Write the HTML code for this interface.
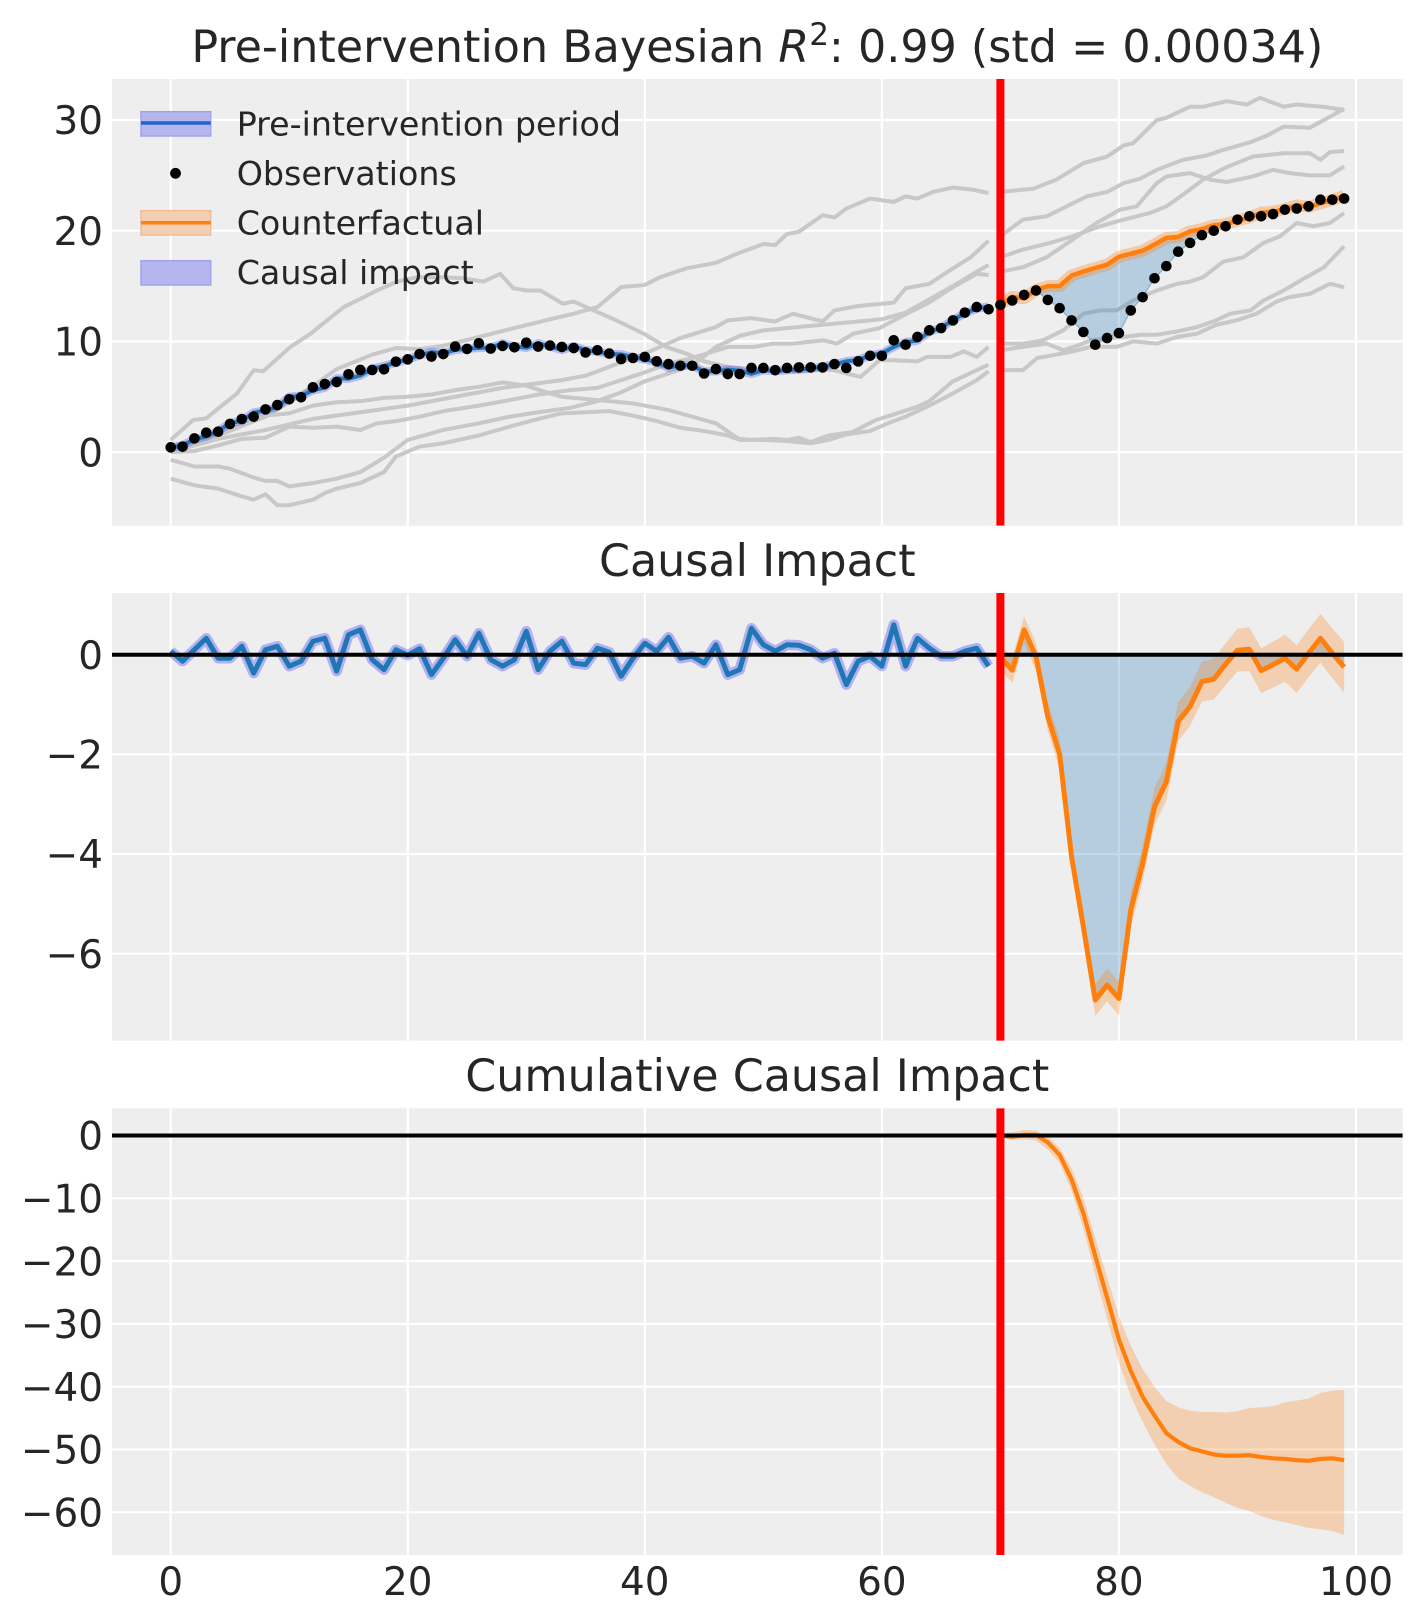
<!DOCTYPE html>
<html><head><meta charset="utf-8"><style>
html,body{margin:0;padding:0;background:#fff;}
svg{display:block;}
text{font-family:"DejaVu Sans","Liberation Sans",sans-serif;fill:#262626;}
.nss{vector-effect:non-scaling-stroke;fill:none;stroke-linejoin:round;}
</style></head><body>
<svg width="1423" height="1623" viewBox="0 0 1423 1623" xmlns="http://www.w3.org/2000/svg">
<defs>
<clipPath id="c1"><rect x="112" y="79" width="1290.7" height="446.7"/></clipPath>
<clipPath id="c2"><rect x="112" y="593" width="1290.7" height="447.7"/></clipPath>
<clipPath id="c3"><rect x="112" y="1108.3" width="1290.7" height="446.7"/></clipPath>
</defs>
<rect width="1423" height="1623" fill="#fff"/>

<!-- ============ PANEL 1 ============ -->
<rect x="112" y="79" width="1290.7" height="446.7" fill="#eeeeee"/>
<g stroke="#fff" stroke-width="2.2">
<line x1="170.7" y1="79" x2="170.7" y2="525.7"/><line x1="407.8" y1="79" x2="407.8" y2="525.7"/><line x1="644.8" y1="79" x2="644.8" y2="525.7"/><line x1="881.9" y1="79" x2="881.9" y2="525.7"/><line x1="1118.9" y1="79" x2="1118.9" y2="525.7"/><line x1="1356" y1="79" x2="1356" y2="525.7"/>
<line x1="112" y1="120" x2="1402.7" y2="120"/><line x1="112" y1="230.7" x2="1402.7" y2="230.7"/><line x1="112" y1="341.4" x2="1402.7" y2="341.4"/><line x1="112" y1="452.1" x2="1402.7" y2="452.1"/>
</g>
<g clip-path="url(#c1)">
<g transform="matrix(11.853 0 0 -11.07 170.7 452.1)">
<g class="nss" stroke="#c8c8c8" stroke-width="4">
<path class="nss" d="M0 0.5 L4 1.5 L8 3.2 L11 5.2 L14 7.5 L17 8.8 L19 9.4 L21 9.3 L23 9.6 L26 10.4 L29 11.2 L32 12.0 L34 12.5 L36 13.1 L38 14.9 L40 15.1 L41.3 15.8 L43.5 16.6 L46 17.1 L47.5 17.8 L50 18.8 L51 18.7 L52 19.7 L53 19.9 L55 21.4 L56 21.2 L57 22.0 L59 22.9 L61 22.6 L62 23.1 L63 22.9 L64.3 23.5 L66 23.9 L67.7 23.7 L69 23.4"/>
<path class="nss" d="M0 1.1 L1.9 2.9 L3 3.05 L4.2 4.1 L5.6 5.3 L7 7.4 L7.8 7.3 L10.1 9.5 L11.8 10.7 L13.2 11.9 L14.6 13.1 L16.3 14.0 L17.4 14.6 L19.1 15.4 L20.8 15.8 L23 15.8 L24.7 15.7 L26.4 15.4 L27.8 16.1 L28.9 14.8 L30 14.6 L31.2 14.6 L32.3 13.9 L33.1 13.4 L34 13.6 L35.7 12.8 L37.6 11.9 L39.9 10.7 L41.8 9.5 L43.5 8.9 L45 8.2 L47 7.7 L49 7.5 L51 7.3 L53 7.3 L55 7.5 L56 7.4 L57 7.1 L58.2 6.8 L59.8 8.3 L61 8.3 L63 8.2 L63.8 8.6 L65.8 8.6 L66.9 9.1 L68 8.6 L69 9.5"/>
<path class="nss" d="M0 0 L4 1.2 L8 2.0 L12 3.0 L16 3.6 L20 4.2 L24 5.0 L28 5.8 L33 6.5 L35 6.9 L37 7.7 L40 8.9 L43 10.3 L46 11.3 L47 11.9 L49 12.1 L51 11.8 L52.5 12.5 L55 11.8 L56 12.8 L58 13.2 L60 13.4 L61 13.5 L62 14.8 L64 15.2 L66 16.6 L67.5 17.6 L69 19.1"/>
<path class="nss" d="M0 -0.7 L2 -1.3 L4 -1.3 L5 -1.5 L7 -2.3 L8 -2.6 L9 -2.6 L10 -3.1 L12 -2.8 L14 -2.4 L16 -1.8 L18 -0.5 L20 1.1 L23 2.0 L26 2.6 L28.6 3.2 L31 3.6 L33.7 4.0 L36 4.6 L38 5.4 L40 6.4 L42 7.1 L44 7.8 L46 9.5 L48 10.5 L50 11.0 L52 11.2 L54 11.4 L56 11.6 L58 11.8 L60 12.0 L62 12.6 L64 13.8 L66 15.0 L68 16.3 L69 16.9"/>
<path class="nss" d="M0 0 L2 0.1 L4 0.6 L6 1.2 L8 1.3 L10 2.3 L12 2.2 L14 2.3 L16 2.0 L17.4 2.6 L19 2.8 L21 3.2 L23 3.7 L26 4.2 L28.6 4.7 L31 5.2 L33.7 5.6 L36 5.8 L38 6.5 L40 7.2 L42 8.0 L44 8.5 L47 9.5 L49.2 9.5 L50.8 9.8 L52.5 9.8 L55.1 10.1 L56.2 9.8 L57.6 10.7 L59.8 11.2 L62.1 12.5 L63.8 13.4 L66 14.9 L68 16.1 L69 16.0"/>
<path class="nss" d="M0 0.6 L2 0.9 L4 1.8 L6 2.4 L8 3.3 L10 3.5 L12 4.2 L14 4.5 L16 4.6 L18 4.9 L20 5.0 L22 5.2 L24 5.6 L26 5.9 L28 6.3 L30 6.0 L32 5.3 L33 5.0 L35 4.8 L37 4.6 L39 4.4 L41 4.0 L42 3.8 L44 3.2 L46 2.6 L47.9 1.2 L49 1.1 L51 1.2 L52 1.1 L53 1.3 L54 0.9 L55.5 1.5 L57.5 1.8 L59.5 2.9 L61 3.4 L63 4.1 L64 4.6 L66 6.4 L68 7.4 L69 7.9"/>
<path class="nss" d="M0 -2.4 L2 -3.0 L4 -3.3 L6 -4.0 L7 -4.3 L8 -3.8 L9 -4.8 L10 -4.8 L12 -4.3 L13 -3.7 L14 -3.3 L16 -2.8 L18 -1.8 L19 -0.4 L21 0.5 L23 0.8 L26 1.5 L28.6 2.3 L31 3.0 L33 3.5 L35 3.6 L37 3.7 L39 3.3 L41 2.8 L43 2.2 L45 1.9 L47 1.5 L48 1.1 L50 1.1 L52 1.0 L54 0.8 L55.5 1.1 L57 1.6 L59 1.9 L60.5 2.6 L62 3.2 L64 4.2 L66 5.3 L68 6.5 L69 7.3"/>
<path class="nss" d="M70 23.5 L72.8 23.8 L74.7 24.6 L77 26.1 L79 26.7 L80.4 27.7 L81.2 27.9 L83.2 30.0 L84 30.2 L86 31.2 L87.1 31.2 L89.1 31.7 L90.8 31.4 L91.9 32.0 L93.9 31.2 L95 31.4 L97.2 31.2 L99 30.9"/>
<path class="nss" d="M70 19.5 L71.9 21.0 L73.9 21.3 L75.6 22.2 L77.3 23.1 L79 23.5 L80.4 24.3 L81.8 24.7 L83.2 25.5 L85.4 26.4 L87.4 26.8 L88.8 27.3 L91.1 28.0 L92.5 28.6 L93.9 29.4 L96.1 29.3 L97.3 30.0 L99 31.0"/>
<path class="nss" d="M70 17.6 L71.9 18.3 L74.2 18.9 L76.1 19.5 L78.4 20.4 L80.4 21.0 L82.6 21.6 L84 22.2 L85.2 23.1 L87.1 24.6 L88.8 25.6 L89.9 26.1 L91.3 26.7 L92.2 26.8 L93.9 27.0 L96.1 27.0 L97 26.4 L97.8 27.1 L99 27.2"/>
<path class="nss" d="M70 16.3 L71.9 16.7 L73.9 17.6 L76.1 19.2 L78.1 20.7 L80.1 21.9 L81.5 22.2 L83.2 24.3 L84 24.9 L86 25.2 L87.7 24.6 L89.1 24.4 L91.3 24.9 L93 25.5 L94.4 25.2 L96.1 25.0 L97.8 25.0 L99 25.8"/>
<path class="nss" d="M70 9.8 L71.9 9.8 L73.6 10.1 L75.3 11.0 L77 12.5 L78.4 12.8 L79.8 12.8 L81.2 13.7 L83.2 14.6 L84.9 15.2 L86 15.4 L87.1 15.8 L88.8 17.2 L90.5 17.6 L92.2 18.9 L93.6 19.5 L95 20.7 L96.4 20.4 L97.8 20.7 L99 21.6"/>
<path class="nss" d="M70 9.2 L71.9 9.5 L73.9 9.8 L75.3 9.2 L76.7 9.7 L77.6 10.1 L79 10.3 L80.4 10.4 L81.8 10.6 L83.2 10.6 L84.9 10.9 L86.6 11.3 L88.2 11.9 L89.4 12.5 L91.1 12.8 L92.2 13.7 L93.9 14.6 L95.8 15.8 L97.3 16.7 L99 18.6"/>
<path class="nss" d="M70 7.4 L71.9 7.4 L73.1 8.5 L74.7 8.8 L76.1 9.1 L77.6 9.5 L79.8 9.5 L81.2 10.0 L83.2 9.8 L84.9 10.4 L86.6 10.7 L88.2 11.5 L89.9 11.9 L91.6 12.5 L93.3 13.6 L94.4 14.0 L96.1 14.3 L97.8 15.2 L99 14.9"/>
</g>
<path fill="rgba(31,119,180,0.27)" stroke="none" d="M70 13.35 L71 14.01 L72 13.7 L73 14.64 L74 14.99 L75 15.0 L76 15.95 L77 16.31 L78 16.63 L79 16.93 L80 17.65 L81 17.92 L82 18.19 L83 18.75 L84 19.35 L85 19.44 L86 19.94 L87 20.14 L88 20.49 L89 20.59 L90 20.91 L91 21.19 L92 21.62 L93 21.7 L94 21.97 L95 22.29 L96 22.17 L97 22.47 L98 22.77 L99 23.15 L99 22.9 L98 22.8 L97 22.8 L96 22.2 L95 22.0 L94 21.9 L93 21.5 L92 21.3 L91 21.3 L90 21.0 L89 20.4 L88 20.0 L87 19.6 L86 18.9 L85 18.1 L84 16.8 L83 15.7 L82 14.0 L81 12.8 L80 10.75 L79 10.3 L78 9.7 L77 10.85 L76 11.9 L75 13.0 L74 13.75 L73 14.6 L72 14.2 L71 13.7 L70 13.3 Z"/>
<path class="nss" stroke="rgba(31,119,180,0.35)" stroke-width="1.5" d="M99 22.9 L98 22.8 L97 22.8 L96 22.2 L95 22.0 L94 21.9 L93 21.5 L92 21.3 L91 21.3 L90 21.0 L89 20.4 L88 20.0 L87 19.6 L86 18.9 L85 18.1 L84 16.8 L83 15.7 L82 14.0 L81 12.8 L80 10.75 L79 10.3 L78 9.7 L77 10.85 L76 11.9 L75 13.0 L74 13.75 L73 14.6"/>
<path class="nss" stroke="rgba(0,0,255,0.22)" stroke-width="8.5" d="M0 0.36 L1 0.62 L2 1.14 L3 1.42 L4 1.91 L5 2.61 L6 2.82 L7 3.57 L8 3.76 L9 4.08 L10 5.0 L11 5.08 L12 5.58 L13 5.82 L14 6.66 L15 6.63 L16 6.92 L17 7.52 L18 7.78 L19 8.07 L20 8.39 L21 8.74 L22 9.03 L23 8.93 L24 9.23 L25 9.35 L26 9.4 L27 9.45 L28 9.82 L29 9.57 L30 9.42 L31 9.83 L32 9.55 L33 9.23 L34 9.57 L35 9.2 L36 9.07 L37 8.85 L38 8.83 L39 8.57 L40 8.37 L41 8.13 L42 7.6 L43 7.87 L44 7.83 L45 7.27 L46 7.3 L47 7.45 L48 7.35 L49 7.07 L50 7.4 L51 7.33 L52 7.4 L53 7.46 L54 7.55 L55 7.72 L56 7.92 L57 8.2 L58 8.33 L59 8.73 L60 8.93 L61 9.5 L62 9.93 L63 10.07 L64 10.87 L65 11.23 L66 11.93 L67 12.53 L68 12.97 L69 13.13"/>
<path class="nss" stroke="#1f77b4" stroke-width="4" d="M0 0.36 L1 0.62 L2 1.14 L3 1.42 L4 1.91 L5 2.61 L6 2.82 L7 3.57 L8 3.76 L9 4.08 L10 5.0 L11 5.08 L12 5.58 L13 5.82 L14 6.66 L15 6.63 L16 6.92 L17 7.52 L18 7.78 L19 8.07 L20 8.39 L21 8.74 L22 9.03 L23 8.93 L24 9.23 L25 9.35 L26 9.4 L27 9.45 L28 9.82 L29 9.57 L30 9.42 L31 9.83 L32 9.55 L33 9.23 L34 9.57 L35 9.2 L36 9.07 L37 8.85 L38 8.83 L39 8.57 L40 8.37 L41 8.13 L42 7.6 L43 7.87 L44 7.83 L45 7.27 L46 7.3 L47 7.45 L48 7.35 L49 7.07 L50 7.4 L51 7.33 L52 7.4 L53 7.46 L54 7.55 L55 7.72 L56 7.92 L57 8.2 L58 8.33 L59 8.73 L60 8.93 L61 9.5 L62 9.93 L63 10.07 L64 10.87 L65 11.23 L66 11.93 L67 12.53 L68 12.97 L69 13.13"/>
<path class="nss" stroke="rgba(255,127,14,0.32)" stroke-width="12" d="M70 13.35 L71 14.01 L72 13.9 L73 14.64 L74 14.99 L75 15.0 L76 15.95 L77 16.31 L78 16.63 L79 16.93 L80 17.65 L81 17.92 L82 18.19 L83 18.75 L84 19.35 L85 19.44 L86 19.94 L87 20.14 L88 20.49 L89 20.59 L90 20.91 L91 21.19 L92 21.62 L93 21.7 L94 21.97 L95 22.29 L96 22.17 L97 22.47 L98 22.77 L99 23.15"/>
<path class="nss" stroke="#ff7f0e" stroke-width="4.5" d="M70 13.35 L71 14.01 L72 13.9 L73 14.64 L74 14.99 L75 15.0 L76 15.95 L77 16.31 L78 16.63 L79 16.93 L80 17.65 L81 17.92 L82 18.19 L83 18.75 L84 19.35 L85 19.44 L86 19.94 L87 20.14 L88 20.49 L89 20.59 L90 20.91 L91 21.19 L92 21.62 L93 21.7 L94 21.97 L95 22.29 L96 22.17 L97 22.47 L98 22.77 L99 23.15"/>
</g>
<line x1="1000.4" y1="79" x2="1000.4" y2="525.7" stroke="#ff0000" stroke-width="8"/>
<g transform="matrix(11.853 0 0 -11.07 170.7 452.1)">
<path class="nss" stroke="#000" stroke-width="10.6" stroke-linecap="round" d="M0 0.43l.001 0M1 0.49l.001 0M2 1.24l.001 0M3 1.75l.001 0M4 1.84l.001 0M5 2.54l.001 0M6 2.99l.001 0M7 3.2l.001 0M8 3.86l.001 0M9 4.25l.001 0M10 4.77l.001 0M11 4.95l.001 0M12 5.85l.001 0M13 6.15l.001 0M14 6.33l.001 0M15 7.03l.001 0M16 7.42l.001 0M17 7.42l.001 0M18 7.48l.001 0M19 8.17l.001 0M20 8.38l.001 0M21 8.86l.001 0M22 8.63l.001 0M23 8.86l.001 0M24 9.53l.001 0M25 9.32l.001 0M26 9.83l.001 0M27 9.35l.001 0M28 9.59l.001 0M29 9.47l.001 0M30 9.89l.001 0M31 9.53l.001 0M32 9.62l.001 0M33 9.5l.001 0M34 9.4l.001 0M35 9.0l.001 0M36 9.2l.001 0M37 8.9l.001 0M38 8.4l.001 0M39 8.5l.001 0M40 8.6l.001 0M41 8.2l.001 0M42 7.95l.001 0M43 7.8l.001 0M44 7.8l.001 0M45 7.1l.001 0M46 7.5l.001 0M47 7.05l.001 0M48 7.05l.001 0M49 7.6l.001 0M50 7.6l.001 0M51 7.4l.001 0M52 7.6l.001 0M53 7.65l.001 0M54 7.65l.001 0M55 7.65l.001 0M56 7.95l.001 0M57 7.6l.001 0M58 8.2l.001 0M59 8.7l.001 0M60 8.7l.001 0M61 10.1l.001 0M62 9.7l.001 0M63 10.4l.001 0M64 11.0l.001 0M65 11.2l.001 0M66 11.9l.001 0M67 12.6l.001 0M68 13.1l.001 0M69 12.9l.001 0M70 13.3l.001 0M71 13.7l.001 0M72 14.2l.001 0M73 14.6l.001 0M74 13.75l.001 0M75 13.0l.001 0M76 11.9l.001 0M77 10.85l.001 0M78 9.7l.001 0M79 10.3l.001 0M80 10.75l.001 0M81 12.8l.001 0M82 14.0l.001 0M83 15.7l.001 0M84 16.8l.001 0M85 18.1l.001 0M86 18.9l.001 0M87 19.6l.001 0M88 20.0l.001 0M89 20.4l.001 0M90 21.0l.001 0M91 21.3l.001 0M92 21.3l.001 0M93 21.5l.001 0M94 21.9l.001 0M95 22.0l.001 0M96 22.2l.001 0M97 22.8l.001 0M98 22.8l.001 0M99 22.9l.001 0"/>
</g>
</g>

<!-- legend -->
<rect x="141" y="111.7" width="69.7" height="24.3" fill="#b6b6ef" stroke="#a2a2ee" stroke-width="1.5"/>
<line x1="141" y1="123" x2="210.7" y2="123" stroke="#2265c8" stroke-width="3.5"/>
<text x="236.7" y="135.5" font-size="33.3">Pre-intervention period</text>
<circle cx="175.5" cy="173.3" r="5.4" fill="#000"/>
<text x="236.7" y="185" font-size="33.3">Observations</text>
<rect x="141" y="210.7" width="69.7" height="24.3" fill="#f3d0b4" stroke="#f2bc92" stroke-width="1.5"/>
<line x1="141" y1="222.7" x2="210.7" y2="222.7" stroke="#ff7f0e" stroke-width="3.5"/>
<text x="236.7" y="234.5" font-size="33.3">Counterfactual</text>
<rect x="141" y="260.7" width="69.7" height="24.3" fill="#b6b6ef" stroke="#a2a2ee" stroke-width="1.5"/>
<text x="236.7" y="284" font-size="33.3">Causal impact</text>

<text x="757.3" y="62" font-size="44.4" text-anchor="middle">Pre-intervention Bayesian <tspan font-style="italic">R</tspan><tspan font-size="31" dy="-17">2</tspan><tspan dy="17">: 0.99 (std = 0.00034)</tspan></text>

<g font-size="38.9" text-anchor="end">
<text x="103" y="134.2">30</text><text x="103" y="244.9">20</text><text x="103" y="355.6">10</text><text x="103" y="466.3">0</text>
</g>

<!-- ============ PANEL 2 ============ -->
<rect x="112" y="593" width="1290.7" height="447.7" fill="#eeeeee"/>
<g stroke="#fff" stroke-width="2.2">
<line x1="170.7" y1="593" x2="170.7" y2="1040.7"/><line x1="407.8" y1="593" x2="407.8" y2="1040.7"/><line x1="644.8" y1="593" x2="644.8" y2="1040.7"/><line x1="881.9" y1="593" x2="881.9" y2="1040.7"/><line x1="1118.9" y1="593" x2="1118.9" y2="1040.7"/><line x1="1356" y1="593" x2="1356" y2="1040.7"/>
<line x1="112" y1="654.7" x2="1402.7" y2="654.7"/><line x1="112" y1="754.4" x2="1402.7" y2="754.4"/><line x1="112" y1="854" x2="1402.7" y2="854"/><line x1="112" y1="953.7" x2="1402.7" y2="953.7"/>
</g>
<g clip-path="url(#c2)">
<g transform="matrix(11.853 0 0 -49.83 170.7 654.7)">
<path fill="rgba(31,119,180,0.27)" d="M70 0 L70 -0.05 L71 -0.31 L72 0.5 L73 -0.04 L74 -1.24 L75 -2.0 L76 -4.05 L77 -5.46 L78 -6.93 L79 -6.63 L80 -6.9 L81 -5.12 L82 -4.19 L83 -3.05 L84 -2.55 L85 -1.34 L86 -1.04 L87 -0.54 L88 -0.49 L89 -0.19 L90 0.09 L91 0.11 L92 -0.32 L93 -0.2 L94 -0.07 L95 -0.29 L96 0.03 L97 0.33 L98 0.03 L99 -0.25 L99 0 Z"/>
<path fill="rgba(255,127,14,0.27)" d="M70 0.20 L71 -0.05 L72 0.77 L73 0.24 L74 -0.95 L75 -1.70 L76 -3.75 L77 -5.15 L78 -6.61 L79 -6.30 L80 -6.56 L81 -4.77 L82 -3.83 L83 -2.68 L84 -2.17 L85 -0.95 L86 -0.65 L87 -0.14 L88 -0.08 L89 0.23 L90 0.52 L91 0.55 L92 0.13 L93 0.26 L94 0.40 L95 0.19 L96 0.51 L97 0.82 L98 0.53 L99 0.26 L99 -0.76 L98 -0.47 L97 -0.16 L96 -0.45 L95 -0.77 L94 -0.54 L93 -0.66 L92 -0.77 L91 -0.33 L90 -0.34 L89 -0.61 L88 -0.90 L87 -0.94 L86 -1.43 L85 -1.73 L84 -2.93 L83 -3.42 L82 -4.55 L81 -5.47 L80 -7.24 L79 -6.96 L78 -7.25 L77 -5.77 L76 -4.35 L75 -2.30 L74 -1.53 L73 -0.32 L72 0.23 L71 -0.57 L70 -0.30 Z"/>
<path class="nss" stroke="rgba(0,0,255,0.26)" stroke-width="10.5" d="M0 0.07 L1 -0.13 L2 0.1 L3 0.33 L4 -0.07 L5 -0.07 L6 0.17 L7 -0.37 L8 0.1 L9 0.17 L10 -0.23 L11 -0.13 L12 0.27 L13 0.33 L14 -0.33 L15 0.4 L16 0.5 L17 -0.1 L18 -0.3 L19 0.1 L20 -0.01 L21 0.12 L22 -0.4 L23 -0.07 L24 0.3 L25 -0.03 L26 0.43 L27 -0.1 L28 -0.23 L29 -0.1 L30 0.47 L31 -0.3 L32 0.07 L33 0.27 L34 -0.17 L35 -0.2 L36 0.13 L37 0.05 L38 -0.43 L39 -0.07 L40 0.23 L41 0.07 L42 0.35 L43 -0.07 L44 -0.03 L45 -0.17 L46 0.2 L47 -0.4 L48 -0.3 L49 0.53 L50 0.2 L51 0.07 L52 0.2 L53 0.19 L54 0.1 L55 -0.07 L56 0.03 L57 -0.6 L58 -0.13 L59 -0.03 L60 -0.23 L61 0.6 L62 -0.23 L63 0.33 L64 0.13 L65 -0.03 L66 -0.03 L67 0.07 L68 0.13 L69 -0.23"/>
<path class="nss" stroke="#1f77b4" stroke-width="5" d="M0 0.07 L1 -0.13 L2 0.1 L3 0.33 L4 -0.07 L5 -0.07 L6 0.17 L7 -0.37 L8 0.1 L9 0.17 L10 -0.23 L11 -0.13 L12 0.27 L13 0.33 L14 -0.33 L15 0.4 L16 0.5 L17 -0.1 L18 -0.3 L19 0.1 L20 -0.01 L21 0.12 L22 -0.4 L23 -0.07 L24 0.3 L25 -0.03 L26 0.43 L27 -0.1 L28 -0.23 L29 -0.1 L30 0.47 L31 -0.3 L32 0.07 L33 0.27 L34 -0.17 L35 -0.2 L36 0.13 L37 0.05 L38 -0.43 L39 -0.07 L40 0.23 L41 0.07 L42 0.35 L43 -0.07 L44 -0.03 L45 -0.17 L46 0.2 L47 -0.4 L48 -0.3 L49 0.53 L50 0.2 L51 0.07 L52 0.2 L53 0.19 L54 0.1 L55 -0.07 L56 0.03 L57 -0.6 L58 -0.13 L59 -0.03 L60 -0.23 L61 0.6 L62 -0.23 L63 0.33 L64 0.13 L65 -0.03 L66 -0.03 L67 0.07 L68 0.13 L69 -0.23"/>
<path class="nss" stroke="#ff7f0e" stroke-width="5" d="M70 -0.05 L71 -0.31 L72 0.5 L73 -0.04 L74 -1.24 L75 -2.0 L76 -4.05 L77 -5.46 L78 -6.93 L79 -6.63 L80 -6.9 L81 -5.12 L82 -4.19 L83 -3.05 L84 -2.55 L85 -1.34 L86 -1.04 L87 -0.54 L88 -0.49 L89 -0.19 L90 0.09 L91 0.11 L92 -0.32 L93 -0.2 L94 -0.07 L95 -0.29 L96 0.03 L97 0.33 L98 0.03 L99 -0.25"/>
</g>
<line x1="112" y1="654.7" x2="1402.7" y2="654.7" stroke="#000" stroke-width="4"/>
<line x1="1000.4" y1="593" x2="1000.4" y2="1040.7" stroke="#ff0000" stroke-width="8"/>
</g>
<text x="757.3" y="576" font-size="44.4" text-anchor="middle">Causal Impact</text>
<g font-size="38.9" text-anchor="end">
<text x="103" y="668.9">0</text><text x="103" y="768.6">−2</text><text x="103" y="868.2">−4</text><text x="103" y="967.9">−6</text>
</g>

<!-- ============ PANEL 3 ============ -->
<rect x="112" y="1108.3" width="1290.7" height="446.7" fill="#eeeeee"/>
<g stroke="#fff" stroke-width="2.2">
<line x1="170.7" y1="1108.3" x2="170.7" y2="1555"/><line x1="407.8" y1="1108.3" x2="407.8" y2="1555"/><line x1="644.8" y1="1108.3" x2="644.8" y2="1555"/><line x1="881.9" y1="1108.3" x2="881.9" y2="1555"/><line x1="1118.9" y1="1108.3" x2="1118.9" y2="1555"/><line x1="1356" y1="1108.3" x2="1356" y2="1555"/>
<line x1="112" y1="1135.5" x2="1402.7" y2="1135.5"/><line x1="112" y1="1198.3" x2="1402.7" y2="1198.3"/><line x1="112" y1="1261.1" x2="1402.7" y2="1261.1"/><line x1="112" y1="1323.9" x2="1402.7" y2="1323.9"/><line x1="112" y1="1386.7" x2="1402.7" y2="1386.7"/><line x1="112" y1="1449.5" x2="1402.7" y2="1449.5"/><line x1="112" y1="1512.3" x2="1402.7" y2="1512.3"/>
</g>
<g clip-path="url(#c3)">
<g transform="matrix(11.853 0 0 -6.28 170.7 1135.5)">
<path fill="rgba(255,127,14,0.27)" d="M70 0.3 L71 0.5 L72 0.9 L73 0.8 L74 -0.2 L75 -2.0 L76 -5.2 L77 -10.0 L78 -16.3 L79 -22.5 L80 -28.8 L81 -33.5 L82 -37.2 L83 -40.0 L84 -42.3 L85 -43.3 L86 -43.8 L87 -44.0 L88 -44.0 L89 -44.1 L90 -43.9 L91 -43.4 L92 -43.3 L93 -43.1 L94 -42.5 L95 -42.2 L96 -41.9 L97 -41.0 L98 -40.6 L99 -40.5 L99 -63.6 L98 -63.0 L97 -62.7 L96 -62.5 L95 -62.0 L94 -61.6 L93 -61.2 L92 -60.6 L91 -59.8 L90 -59.3 L89 -58.5 L88 -57.6 L87 -56.8 L86 -55.8 L85 -54.6 L84 -52.3 L83 -49.2 L82 -45.6 L81 -41.5 L80 -36.2 L79 -29.2 L78 -22.2 L77 -14.8 L76 -8.8 L75 -4.4 L74 -2.2 L73 -0.8 L72 -0.6 L71 -0.7 L70 -0.3 Z"/>
<path class="nss" stroke="#ff7f0e" stroke-width="4.2" d="M70 0 L71 -0.2 L72 0.1 L73 0.1 L74 -1.1 L75 -3.1 L76 -7.0 L77 -12.4 L78 -19.2 L79 -25.8 L80 -32.5 L81 -37.5 L82 -41.6 L83 -44.6 L84 -47.4 L85 -48.8 L86 -49.8 L87 -50.3 L88 -50.8 L89 -51.0 L90 -51.0 L91 -50.9 L92 -51.2 L93 -51.4 L94 -51.5 L95 -51.7 L96 -51.8 L97 -51.5 L98 -51.4 L99 -51.7"/>
</g>
<line x1="112" y1="1135.5" x2="1402.7" y2="1135.5" stroke="#000" stroke-width="4"/>
<line x1="1000.4" y1="1108.3" x2="1000.4" y2="1555" stroke="#ff0000" stroke-width="8"/>
</g>
<text x="757.3" y="1091" font-size="44.4" text-anchor="middle">Cumulative Causal Impact</text>
<g font-size="38.9" text-anchor="end">
<text x="103" y="1149.7">0</text><text x="103" y="1212.5">−10</text><text x="103" y="1275.3">−20</text><text x="103" y="1338.1">−30</text><text x="103" y="1400.9">−40</text><text x="103" y="1463.7">−50</text><text x="103" y="1526.5">−60</text>
</g>
<g font-size="38.9" text-anchor="middle">
<text x="170.7" y="1595">0</text><text x="407.8" y="1595">20</text><text x="644.8" y="1595">40</text><text x="881.9" y="1595">60</text><text x="1118.9" y="1595">80</text><text x="1356" y="1595">100</text>
</g>
</svg>
</body></html>
